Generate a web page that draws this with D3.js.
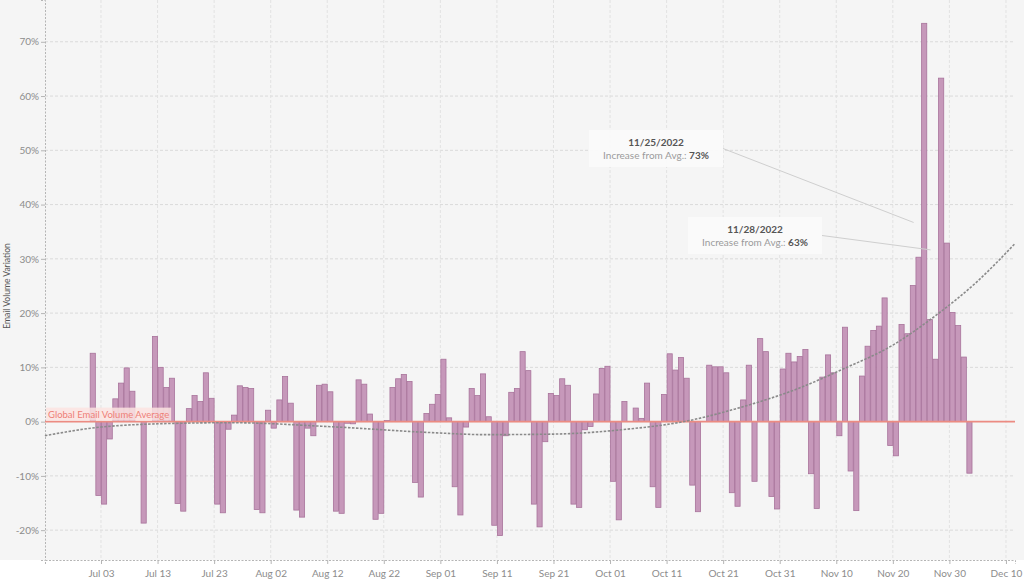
<!DOCTYPE html>
<html><head><meta charset="utf-8">
<script src="https://cdn.jsdelivr.net/npm/d3@7"></script>
<style>
body{margin:0;background:#fff}
svg{display:block}
text{font-family:Lato,"Open Sans",sans-serif}
</style>
</head><body>
<svg id="chart" width="1024" height="583"></svg>
<script>
// ---------- data ----------
const firstDay = "2022-07-01";
// daily email volume variation vs global average (%), one value per day from Jul 1 2022; null = no bar
const variation = [
  // Jul 1-31
  12.6,-13.6,-15.2,-3.2,4.2,7.1,9.9,5.6,null,-18.7,null,15.7,10.0,6.3,8.0,-15.1,-16.5,2.4,4.8,3.7,9.0,4.3,-15.2,-16.8,-1.4,1.2,6.6,6.3,6.1,-16.2,-16.8,
  // Aug 1-31
  2.1,-1.2,4.0,8.3,3.4,-16.3,-17.6,-1.2,-2.6,6.7,6.9,5.5,-16.5,-16.9,-0.3,-0.4,7.7,6.9,1.4,-18.0,-16.9,0.2,6.3,7.9,8.7,7.4,-11.2,-13.9,1.5,3.2,5.0,
  // Sep 1-30
  11.5,0.7,-12.0,-17.2,-1.0,6.1,4.8,8.8,0.9,-19.1,-21.0,-2.6,5.4,6.1,12.9,9.4,-15.2,-19.4,-3.7,5.2,4.8,7.9,6.7,-15.2,-15.8,-1.5,-0.9,5.1,9.8,10.2,
  // Oct 1-31
  -11.0,-18.1,3.7,null,2.5,0.6,7.1,-12.0,-15.8,5.0,12.5,9.5,11.8,8.0,-11.7,-16.6,null,10.4,10.1,10.1,9.0,-13.1,-15.6,4.0,10.4,-11.0,15.3,12.9,-13.8,-16.1,9.7,
  // Nov 1-30
  12.6,11.0,12.0,13.3,-9.6,-16.0,8.2,12.3,9.0,-2.6,17.4,-9.1,-16.4,8.4,13.9,16.8,17.6,22.8,-4.4,-6.3,17.9,16.2,25.1,30.3,73.4,18.8,11.5,63.3,32.9,20.1,
  // Dec 1-3
  17.7,11.9,-9.5
];
const xTickDates  = ["2022-07-03","2022-07-13","2022-07-23","2022-08-02","2022-08-12","2022-08-22","2022-09-01","2022-09-11","2022-09-21","2022-10-01","2022-10-11","2022-10-21","2022-10-31","2022-11-10","2022-11-20","2022-11-30","2022-12-10"];
const xTickLabels = ["Jul 03","Jul 13","Jul 23","Aug 02","Aug 12","Aug 22","Sep 01","Sep 11","Sep 21","Oct 01","Oct 11","Oct 21","Oct 31","Nov 10","Nov 20","Nov 30","Dec 10"];
const yTickValues = [-20,-10,0,10,20,30,40,50,60,70];
const yTickLabels = ["-20%","-10%","0%","10%","20%","30%","40%","50%","60%","70%"];
// trend line
const trendDates  = ["2022-06-23 02:00","2022-07-03 00:00","2022-07-17 00:00","2022-07-26 00:00","2022-08-12 00:00","2022-08-30 00:00","2022-09-09 00:00","2022-09-21 00:00","2022-10-03 00:00","2022-10-15 00:00","2022-10-23 00:00","2022-11-03 00:00","2022-11-11 00:00","2022-11-20 00:00","2022-11-27 00:00","2022-12-05 00:00","2022-12-11 14:00"];
const trendValues = [-2.6,-1.0,-0.3,-0.2,-0.9,-2.0,-2.4,-2.3,-1.5,0.2,2.3,6.0,9.6,14.1,19.1,25.9,32.8];
const annotationDates = ["2022-11-25","2022-11-28"];
const axisTitle = "Email Volume Variation";
const refLabel = "Global Email Volume Average";

// ---------- layout ----------
const W = 1024, H = 583;
const plot = {left:45, right:1015, top:0, bottom:560};
const pDay = d3.timeParse("%Y-%m-%d");
const pTime = d3.timeParse("%Y-%m-%d %H:%M");

const start = pDay(firstDay);
const bars = variation.map((v,i)=>({date:d3.timeDay.offset(start,i), value:v})).filter(d=>d.value!==null);

const x = d3.scaleTime()
  .domain([pTime("2022-06-23 02:24"), pTime("2022-12-11 14:24")])
  .range([plot.left, plot.right]);
const y = d3.scaleLinear().domain([-25.5, 77.7]).range([plot.bottom, plot.top]);

const svg = d3.select("#chart");
svg.append("rect").attr("x",0).attr("y",0).attr("width",W).attr("height",plot.bottom).attr("fill","#f5f5f5");
svg.append("rect").attr("x",0).attr("y",plot.bottom).attr("width",W).attr("height",H-plot.bottom).attr("fill","#ffffff");

// grid
const grid = svg.append("g");
grid.selectAll("line.h").data(yTickValues).join("line")
  .attr("x1",plot.left).attr("x2",plot.right)
  .attr("y1",d=>y(d)).attr("y2",d=>y(d))
  .attr("stroke","#dadada").attr("stroke-width",1).attr("stroke-dasharray","3,2");
grid.selectAll("line.v").data(xTickDates).join("line")
  .attr("x1",d=>x(pDay(d))).attr("x2",d=>x(pDay(d)))
  .attr("y1",plot.top).attr("y2",plot.bottom)
  .attr("stroke","#e2e2e2").attr("stroke-width",1).attr("stroke-dasharray","3,2");

// axes
const yAxis = d3.axisLeft(y).tickValues(yTickValues).tickSize(4).tickPadding(2)
  .tickFormat((d,i)=>yTickLabels[i]);
const gy = svg.append("g").attr("transform",`translate(${plot.left},0)`).call(yAxis);
gy.select(".domain").attr("stroke","#b5b5b5").attr("stroke-dasharray","2,1.5");
gy.selectAll(".tick line").attr("stroke","#b5b5b5");
gy.selectAll(".tick text").attr("fill","#8c8c8c").style("font-size","10px").style("font-family","Lato,'Open Sans',sans-serif");

const xAxis = d3.axisBottom(x).tickValues(xTickDates.map(pDay)).tickSize(4).tickPadding(6)
  .tickFormat((d,i)=>xTickLabels[i]);
const gx = svg.append("g").attr("transform",`translate(0,${plot.bottom})`).call(xAxis);
gx.select(".domain").attr("stroke","#b5b5b5").attr("stroke-dasharray","2,1.5");
gx.selectAll(".tick line").attr("stroke","#b5b5b5");
gx.selectAll(".tick text").attr("fill","#8c8c8c").style("font-size","10px").style("font-family","Lato,'Open Sans',sans-serif");

svg.append("text").attr("transform",`translate(10,${(plot.top+plot.bottom)/2+6}) rotate(-90)`)
  .attr("text-anchor","middle").attr("fill","#555").style("font-size","8.5px").text(axisTitle);

// bars
svg.append("g").selectAll("rect").data(bars).join("rect")
  .attr("x",d=>x(d.date)+0.5)
  .attr("width",d=>x(d3.timeDay.offset(d.date,1))-x(d.date)-0.5)
  .attr("y",d=>y(Math.max(0,d.value)))
  .attr("height",d=>Math.abs(y(d.value)-y(0)))
  .attr("fill","#c698ba").attr("stroke","#a8739b").attr("stroke-width",0.8);

// reference line
svg.append("line").attr("x1",plot.left).attr("x2",plot.right).attr("y1",y(0)).attr("y2",y(0))
  .attr("stroke","#ec8b82").attr("stroke-width",1.6);
const refG = svg.append("g");
const refText = refG.append("text").attr("x",plot.left+3).attr("y",y(0)-4)
  .attr("fill","#ee8077").style("font-size","9.5px").text(refLabel);
const bb = refText.node().getBBox();
refG.insert("rect","text").attr("x",bb.x-2).attr("y",bb.y-1).attr("width",bb.width+4).attr("height",y(0)-bb.y)
  .attr("fill","#fbe3e0").attr("opacity",0.85);

// trend line
const trend = trendDates.map((d,i)=>({date:pTime(d), value:trendValues[i]}));
svg.append("path").datum(trend)
  .attr("d",d3.line().x(d=>x(d.date)).y(d=>y(d.value)).curve(d3.curveMonotoneX))
  .attr("fill","none").attr("stroke","#8a8a8a").attr("stroke-width",1.6).attr("stroke-dasharray","2.5,1.5");

// annotations
const boxes = [{x:589,y:130},{x:688,y:217}];
const boxW = 134, boxH = 37;
annotationDates.forEach((ds,i)=>{
  const dt = pDay(ds);
  const v = bars.find(b=>+b.date===+dt).value;
  const b = boxes[i];
  const ex = x(dt)-7.5, ey = y(v/2);
  svg.append("line").attr("x1",b.x+boxW).attr("y1",b.y+boxH/2).attr("x2",ex).attr("y2",ey)
    .attr("stroke","#cfcfcf").attr("stroke-width",1);
  svg.append("rect").attr("x",b.x).attr("y",b.y).attr("width",boxW).attr("height",boxH)
    .attr("fill","#fafafa").attr("opacity",0.95);
  const [mm,dd,yy] = [d3.timeFormat("%m")(dt),d3.timeFormat("%d")(dt),d3.timeFormat("%Y")(dt)];
  svg.append("text").attr("x",b.x+boxW/2).attr("y",b.y+16).attr("text-anchor","middle")
    .attr("fill","#555").style("font-size","10px").style("font-weight","bold").text(`${mm}/${dd}/${yy}`);
  const t = svg.append("text").attr("x",b.x+boxW/2).attr("y",b.y+29).attr("text-anchor","middle").style("font-size","10px");
  t.append("tspan").attr("fill","#9a9a9a").text("Increase from Avg.: ");
  t.append("tspan").attr("fill","#555").style("font-weight","bold").text(Math.round(v)+"%");
});
</script>
</body></html>
